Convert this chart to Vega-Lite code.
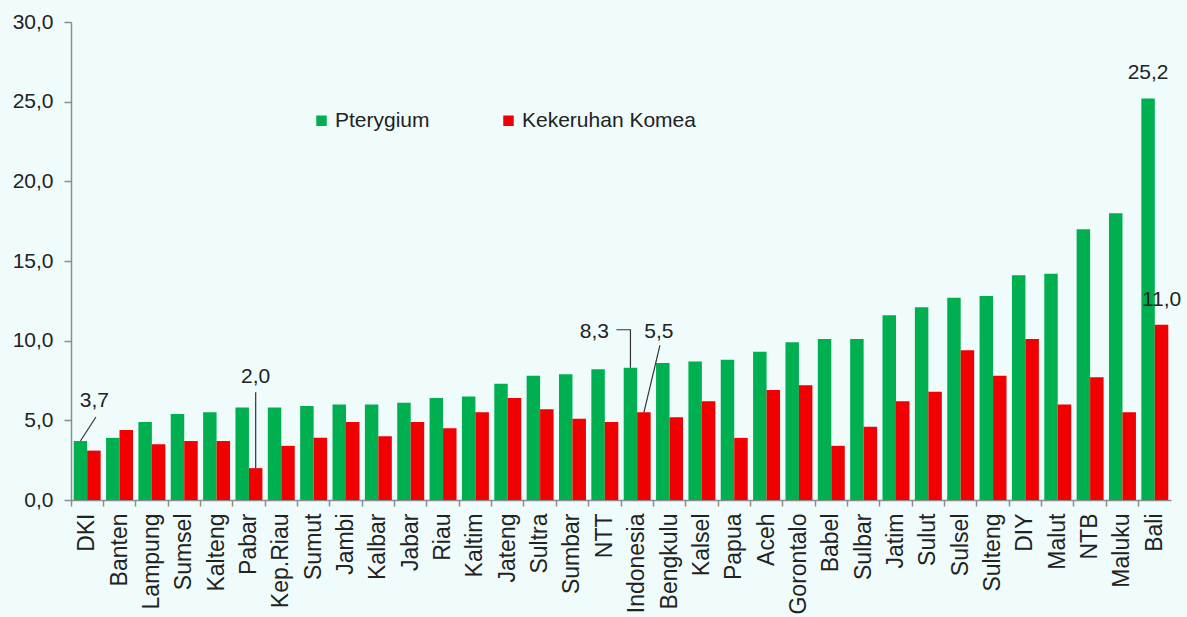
{
  "$schema": "https://vega.github.io/schema/vega-lite/v6.json",
  "width": 1100,
  "height": 478,
  "autosize": {"type": "none"},
  "padding": {"left": 71, "top": 22, "right": 16, "bottom": 117},
  "background": "#F0FCFC",
  "config": {
    "view": {"stroke": null},
    "locale": {"number": {"decimal": ",", "thousands": ".", "grouping": [3], "currency": ["", ""]}},
    "font": "Liberation Sans"
  },
  "data": {"values": [
    {"region": "DKI", "series": "Pterygium", "value": 3.7}, {"region": "DKI", "series": "Kekeruhan Komea", "value": 3.1},
    {"region": "Banten", "series": "Pterygium", "value": 3.9}, {"region": "Banten", "series": "Kekeruhan Komea", "value": 4.4},
    {"region": "Lampung", "series": "Pterygium", "value": 4.9}, {"region": "Lampung", "series": "Kekeruhan Komea", "value": 3.5},
    {"region": "Sumsel", "series": "Pterygium", "value": 5.4}, {"region": "Sumsel", "series": "Kekeruhan Komea", "value": 3.7},
    {"region": "Kalteng", "series": "Pterygium", "value": 5.5}, {"region": "Kalteng", "series": "Kekeruhan Komea", "value": 3.7},
    {"region": "Pabar", "series": "Pterygium", "value": 5.8}, {"region": "Pabar", "series": "Kekeruhan Komea", "value": 2.0},
    {"region": "Kep.Riau", "series": "Pterygium", "value": 5.8}, {"region": "Kep.Riau", "series": "Kekeruhan Komea", "value": 3.4},
    {"region": "Sumut", "series": "Pterygium", "value": 5.9}, {"region": "Sumut", "series": "Kekeruhan Komea", "value": 3.9},
    {"region": "Jambi", "series": "Pterygium", "value": 6.0}, {"region": "Jambi", "series": "Kekeruhan Komea", "value": 4.9},
    {"region": "Kalbar", "series": "Pterygium", "value": 6.0}, {"region": "Kalbar", "series": "Kekeruhan Komea", "value": 4.0},
    {"region": "Jabar", "series": "Pterygium", "value": 6.1}, {"region": "Jabar", "series": "Kekeruhan Komea", "value": 4.9},
    {"region": "Riau", "series": "Pterygium", "value": 6.4}, {"region": "Riau", "series": "Kekeruhan Komea", "value": 4.5},
    {"region": "Kaltim", "series": "Pterygium", "value": 6.5}, {"region": "Kaltim", "series": "Kekeruhan Komea", "value": 5.5},
    {"region": "Jateng", "series": "Pterygium", "value": 7.3}, {"region": "Jateng", "series": "Kekeruhan Komea", "value": 6.4},
    {"region": "Sultra", "series": "Pterygium", "value": 7.8}, {"region": "Sultra", "series": "Kekeruhan Komea", "value": 5.7},
    {"region": "Sumbar", "series": "Pterygium", "value": 7.9}, {"region": "Sumbar", "series": "Kekeruhan Komea", "value": 5.1},
    {"region": "NTT", "series": "Pterygium", "value": 8.2}, {"region": "NTT", "series": "Kekeruhan Komea", "value": 4.9},
    {"region": "Indonesia", "series": "Pterygium", "value": 8.3}, {"region": "Indonesia", "series": "Kekeruhan Komea", "value": 5.5},
    {"region": "Bengkulu", "series": "Pterygium", "value": 8.6}, {"region": "Bengkulu", "series": "Kekeruhan Komea", "value": 5.2},
    {"region": "Kalsel", "series": "Pterygium", "value": 8.7}, {"region": "Kalsel", "series": "Kekeruhan Komea", "value": 6.2},
    {"region": "Papua", "series": "Pterygium", "value": 8.8}, {"region": "Papua", "series": "Kekeruhan Komea", "value": 3.9},
    {"region": "Aceh", "series": "Pterygium", "value": 9.3}, {"region": "Aceh", "series": "Kekeruhan Komea", "value": 6.9},
    {"region": "Gorontalo", "series": "Pterygium", "value": 9.9}, {"region": "Gorontalo", "series": "Kekeruhan Komea", "value": 7.2},
    {"region": "Babel", "series": "Pterygium", "value": 10.1}, {"region": "Babel", "series": "Kekeruhan Komea", "value": 3.4},
    {"region": "Sulbar", "series": "Pterygium", "value": 10.1}, {"region": "Sulbar", "series": "Kekeruhan Komea", "value": 4.6},
    {"region": "Jatim", "series": "Pterygium", "value": 11.6}, {"region": "Jatim", "series": "Kekeruhan Komea", "value": 6.2},
    {"region": "Sulut", "series": "Pterygium", "value": 12.1}, {"region": "Sulut", "series": "Kekeruhan Komea", "value": 6.8},
    {"region": "Sulsel", "series": "Pterygium", "value": 12.7}, {"region": "Sulsel", "series": "Kekeruhan Komea", "value": 9.4},
    {"region": "Sulteng", "series": "Pterygium", "value": 12.8}, {"region": "Sulteng", "series": "Kekeruhan Komea", "value": 7.8},
    {"region": "DIY", "series": "Pterygium", "value": 14.1}, {"region": "DIY", "series": "Kekeruhan Komea", "value": 10.1},
    {"region": "Malut", "series": "Pterygium", "value": 14.2}, {"region": "Malut", "series": "Kekeruhan Komea", "value": 6.0},
    {"region": "NTB", "series": "Pterygium", "value": 17.0}, {"region": "NTB", "series": "Kekeruhan Komea", "value": 7.7},
    {"region": "Maluku", "series": "Pterygium", "value": 18.0}, {"region": "Maluku", "series": "Kekeruhan Komea", "value": 5.5},
    {"region": "Bali", "series": "Pterygium", "value": 25.2}, {"region": "Bali", "series": "Kekeruhan Komea", "value": 11.0}
  ]},
  "encoding": {
    "x": {
      "field": "region", "type": "nominal",
      "scale": {"domain": ["DKI","Banten","Lampung","Sumsel","Kalteng","Pabar","Kep.Riau","Sumut","Jambi","Kalbar","Jabar","Riau","Kaltim","Jateng","Sultra","Sumbar","NTT","Indonesia","Bengkulu","Kalsel","Papua","Aceh","Gorontalo","Babel","Sulbar","Jatim","Sulut","Sulsel","Sulteng","DIY","Malut","NTB","Maluku","Bali"], "paddingInner": 0, "paddingOuter": 0},
      "axis": {
        "title": null, "bandPosition": 0, "labelAngle": -90, "labelDy": 16.18, "labelFontSize": 23,
        "labelColor": "#222222", "labelFont": "Liberation Sans", "labelOverlap": false, "labelPadding": 7, "labelLimit": 0,
        "tickSize": 6, "tickColor": "#8C8C8C", "domainColor": "#8C8C8C", "domainWidth": 1.5, "tickWidth": 1.5
      }
    },
    "xOffset": {"field": "series", "type": "nominal", "scale": {"domain": ["Pterygium", "Kekeruhan Komea"], "paddingOuter": 0.2, "paddingInner": 0}},
    "y": {
      "field": "value", "type": "quantitative",
      "scale": {"domain": [0, 30], "nice": false},
      "axis": {
        "title": null, "values": [0, 5, 10, 15, 20, 25, 30], "format": ".1f", "grid": false,
        "labelFontSize": 21, "labelColor": "#222222", "labelFont": "Liberation Sans", "labelPadding": 11,
        "tickSize": 7, "tickColor": "#8C8C8C", "domainColor": "#8C8C8C", "domainWidth": 1.5, "tickWidth": 1.5
      }
    }
  },
  "layer": [
    {
      "mark": {"type": "bar"},
      "encoding": {
        "color": {
          "field": "series", "type": "nominal",
          "scale": {"domain": ["Pterygium", "Kekeruhan Komea"], "range": ["#00B050", "#F00000"]},
          "legend": {
            "title": null, "orient": "none", "legendX": 240, "legendY": 88, "direction": "horizontal", "columns": 2,
            "padding": 0, "symbolType": "square", "symbolSize": 110, "symbolStrokeWidth": 0, "labelFontSize": 21, "labelFont": "Liberation Sans",
            "labelColor": "#222222", "columnPadding": 68, "labelOffset": 3, "labelLimit": 0
          }
        }
      }
    },
    {
      "transform": [{"filter": "datum.region == 'DKI' && datum.series == 'Pterygium'"}],
      "mark": {"type": "text", "dx": 14, "dy": -40, "fontSize": 21, "color": "#222222", "baseline": "middle", "align": "center"},
      "encoding": {"text": {"field": "value", "type": "quantitative", "format": ".1f"}}
    },
    {
      "transform": [{"filter": "datum.region == 'DKI' && datum.series == 'Pterygium'"}],
      "mark": {"type": "point", "shape": "M0,0L1.55,-2.4", "size": 400, "filled": false, "stroke": "#333333", "strokeWidth": 1.2, "opacity": 1}
    },
    {
      "transform": [{"filter": "datum.region == 'Pabar' && datum.series == 'Kekeruhan Komea'"}],
      "mark": {"type": "text", "dx": 0, "dy": -91, "fontSize": 21, "color": "#222222", "baseline": "middle", "align": "center"},
      "encoding": {"text": {"field": "value", "type": "quantitative", "format": ".1f"}}
    },
    {
      "transform": [{"filter": "datum.region == 'Pabar' && datum.series == 'Kekeruhan Komea'"}],
      "mark": {"type": "point", "shape": "M0,0L0,-7.6", "size": 400, "filled": false, "stroke": "#333333", "strokeWidth": 1.2, "opacity": 1}
    },
    {
      "transform": [{"filter": "datum.region == 'Indonesia' && datum.series == 'Pterygium'"}],
      "mark": {"type": "text", "dx": -36, "dy": -36, "fontSize": 21, "color": "#222222", "baseline": "middle", "align": "center"},
      "encoding": {"text": {"field": "value", "type": "quantitative", "format": ".1f"}}
    },
    {
      "transform": [{"filter": "datum.region == 'Indonesia' && datum.series == 'Pterygium'"}],
      "mark": {"type": "point", "shape": "M0,0L0,-3.8L-1.4,-3.8", "size": 400, "filled": false, "stroke": "#333333", "strokeWidth": 1.2, "opacity": 1}
    },
    {
      "transform": [{"filter": "datum.region == 'Indonesia' && datum.series == 'Kekeruhan Komea'"}],
      "mark": {"type": "text", "dx": 15, "dy": -80, "fontSize": 21, "color": "#222222", "baseline": "middle", "align": "center"},
      "encoding": {"text": {"field": "value", "type": "quantitative", "format": ".1f"}}
    },
    {
      "transform": [{"filter": "datum.region == 'Indonesia' && datum.series == 'Kekeruhan Komea'"}],
      "mark": {"type": "point", "shape": "M0,0L1.6,-6.7", "size": 400, "filled": false, "stroke": "#333333", "strokeWidth": 1.2, "opacity": 1}
    },
    {
      "transform": [{"filter": "datum.region == 'Bali'"}],
      "mark": {"type": "text", "dx": 0, "dy": -25, "fontSize": 21, "color": "#222222", "baseline": "middle", "align": "center"},
      "encoding": {"text": {"field": "value", "type": "quantitative", "format": ".1f"}}
    }
  ]
}
